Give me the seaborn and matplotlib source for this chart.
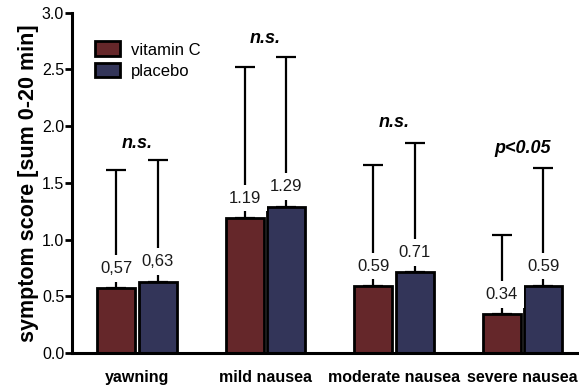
import matplotlib
matplotlib.use("Agg")
import matplotlib.pyplot as plt
import seaborn as sns
import pandas as pd
import numpy as np

categories = ["yawning", "mild nausea", "moderate nausea", "severe nausea"]
groups = ["vitamin C", "placebo"]
vitc_mean = [0.57, 1.19, 0.59, 0.34]
plac_mean = [0.63, 1.29, 0.71, 0.59]
vitc_sd = [1.04, 1.33, 1.07, 0.70]
plac_sd = [1.07, 1.32, 1.14, 1.04]
vitc_labels = ["0,57", "1.19", "0.59", "0.34"]
plac_labels = ["0,63", "1.29", "0.71", "0.59"]
significance = ["n.s.", "n.s.", "n.s.", "p<0.05"]
sig_y = [1.85, 2.77, 2.03, 1.80]

colors = ["#6f1d21", "#2d305f"]

sns.set_theme(style="white")
plt.rcParams["font.family"] = ["Liberation Sans", "DejaVu Sans"]
plt.rcParams["text.color"] = "black"
plt.rcParams["axes.labelcolor"] = "black"

df = pd.DataFrame({
    "category": categories * 2,
    "group": [groups[0]] * 4 + [groups[1]] * 4,
    "score": vitc_mean + plac_mean,
})

fig = plt.figure(figsize=(5.79, 3.87), dpi=100)
ax = fig.add_axes([0.124, 0.088, 0.876, 0.879])

sns.barplot(data=df, x="category", y="score", hue="group", order=categories,
            hue_order=groups, palette=colors, width=0.646, gap=0.083,
            edgecolor="black", linewidth=2.0, errorbar=None, ax=ax, zorder=2)

# upward-only SD bars and value labels
bar_containers = list(ax.containers)
means = [vitc_mean, plac_mean]
sds = [vitc_sd, plac_sd]
labels = [vitc_labels, plac_labels]
for gi, cont in enumerate(bar_containers):
    xs = [p.get_x() + p.get_width() / 2 for p in cont.patches]
    ax.errorbar(xs, means[gi], yerr=[np.zeros(4), sds[gi]], fmt="none",
                ecolor="black", elinewidth=1.6, capsize=7.2, capthick=1.6,
                zorder=1)
    for x, m, lab in zip(xs, means[gi], labels[gi]):
        ax.annotate(lab, (x, m), xytext=(0, 9), textcoords="offset points",
                    ha="center", va="bottom", fontsize=12, color="#1a1a1a",
                    bbox=dict(boxstyle="square,pad=0.35", fc="white", ec="none"),
                    zorder=3)

for i, (s, y) in enumerate(zip(significance, sig_y)):
    ax.text(i, y, s, ha="center", va="center", fontsize=13,
            fontweight="bold", fontstyle="italic", color="black")

ax.set_xlim(-0.506, 3.44)
ax.set_ylim(0, 3.0)
ax.set_yticks([0, 0.5, 1.0, 1.5, 2.0, 2.5, 3.0])
ax.set_yticklabels(["0.0", "0.5", "1.0", "1.5", "2.0", "2.5", "3.0"])
ax.set_xlabel("")
ax.set_ylabel("symptom score [sum 0-20 min]", fontsize=15.5, fontweight="bold",
              labelpad=2, color="black")
ax.tick_params(axis="y", which="both", left=True, direction="out", length=5,
               width=2, labelsize=11.5, pad=0.5, colors="black")
ax.tick_params(axis="x", bottom=False, length=0, labelsize=11.5, pad=12.5,
               labelcolor="black")
for lab in ax.get_xticklabels():
    lab.set_fontweight("bold")

sns.despine(ax=ax)
for side in ["left", "bottom"]:
    ax.spines[side].set_linewidth(2.2)
    ax.spines[side].set_color("black")

leg = ax.legend(loc="upper left", bbox_to_anchor=(0.02, 0.955), frameon=False,
                fontsize=12, handlelength=1.5, handleheight=1.0,
                handletextpad=0.65, labelspacing=0.3, borderpad=0.3)

fig.savefig("out.png", dpi=100)
